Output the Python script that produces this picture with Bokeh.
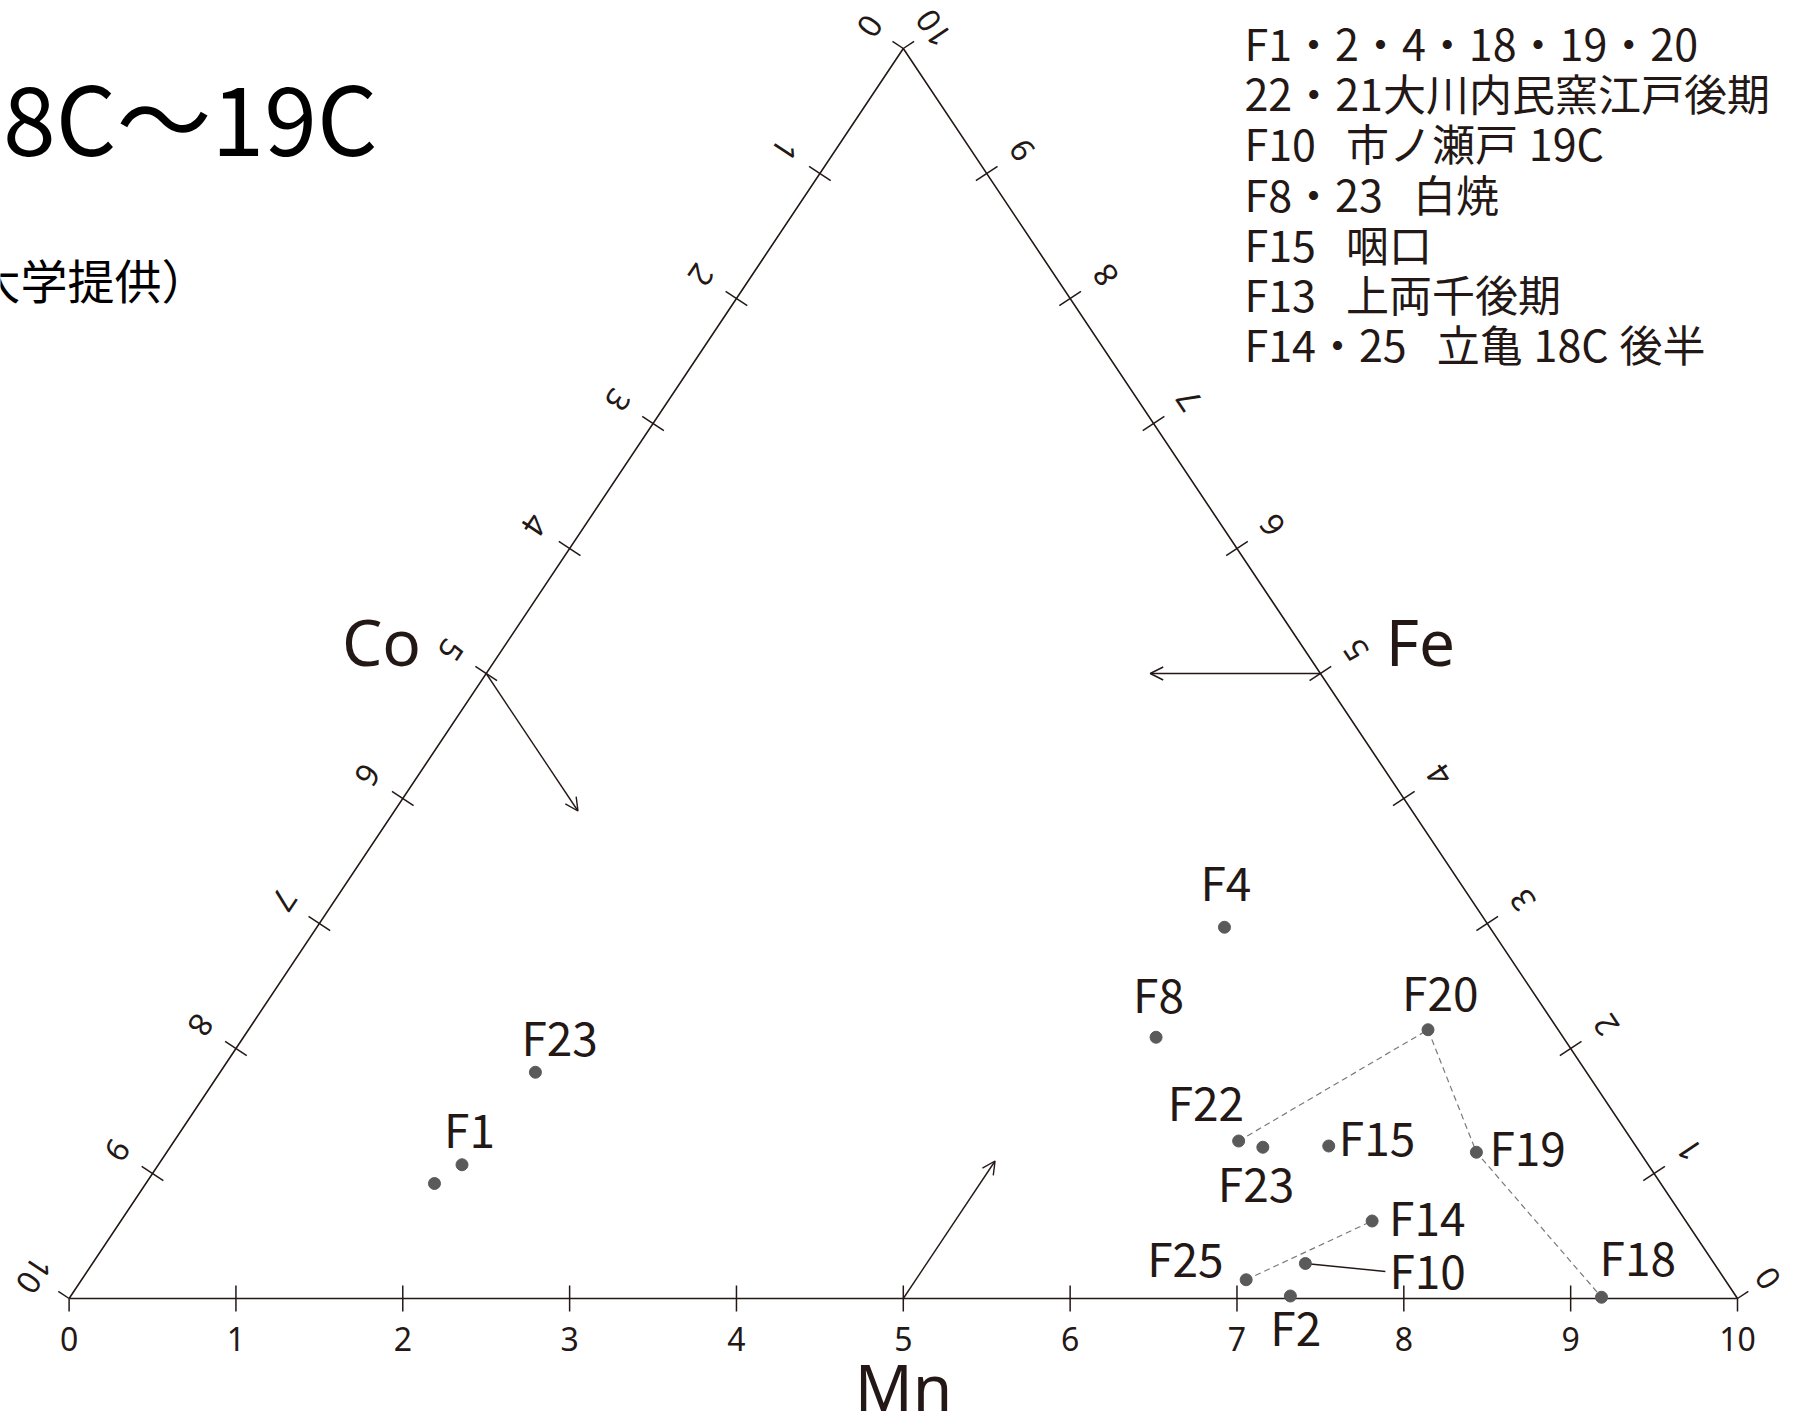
import math
from bokeh.plotting import figure
from bokeh.models import Arrow, OpenHead, Range1d
from bokeh.core.properties import value
from bokeh.embed import file_html
from bokeh.resources import INLINE

# ---------------- data (ternary compositions, scale 0-10) ----------------
names = ["F1", "", "F23", "F4", "F8", "F20", "F22", "F23", "F15", "F19",
         "F14", "F10", "F25", "F2", "F18"]
mn = [1.82, 1.73, 1.89, 5.44, 5.47, 7.07, 6.38, 6.55, 6.94, 7.85,
      7.50, 7.27, 6.98, 7.31, 9.18]
fe = [1.07, 0.92, 1.81, 2.97, 2.09, 2.15, 1.26, 1.21, 1.22, 1.17,
      0.62, 0.28, 0.15, 0.02, 0.01]
co = [7.11, 7.35, 6.30, 1.59, 2.44, 0.78, 2.36, 2.24, 1.84, 0.98,
      1.88, 2.45, 2.87, 2.67, 0.81]

dashed_group_a = [6, 5, 9, 14]   # F22 - F20 - F19 - F18
dashed_group_b = [12, 10]        # F25 - F14

tick_values = list(range(0, 11))

# arrows: (mn, fe, co) start -> end
arrow_start = [(0.0, 5.0, 5.0), (5.0, 5.0, 0.0), (5.0, 0.0, 5.0)]
arrow_end = [(1.1, 3.9, 5.0), (3.98, 5.0, 1.02), (5.0, 1.1, 3.9)]

axis_names = ["Co", "Fe", "Mn"]
title_text = "18C～19C"
subtitle_text = "大学提供）"
legend_lines = [
    "F1・2・4・18・19・20",
    "22・21大川内民窯江戸後期",
    "F10\u2002\u2009市ノ瀬戸\u200519C",
    "F8・23\u2002\u2009白焼",
    "F15\u2002\u2009咽口",
    "F13\u2002\u2009上両千後期",
    "F14・25\u2002\u2009立亀\u200518C\u2005後半",
]

# ---------------- layout (pixels) ----------------
W, H = 1793, 1422
PXX = 166.84   # px per unit along x
PXY = 125.0    # px per unit along y (Fe)
X0_REF, Y0_REF = 68.6, 1298.0   # pixel position of the origin
x_start = (0 - X0_REF) / PXX
x_end = x_start + W / PXX
y_end = (Y0_REF - 0) / PXY
y_start = y_end - H / PXY

INK = "#231815"
DOT = "#5a5a5a"
DASH = "#7a7a7a"

# label offsets (px, right / down) of the text's left-middle relative to point
label_off = [(-18, -37), (0, 0), (-14, -36), (-24, -46), (-23, -44), (-26, -39),
             (-71, -40), (-45, 35), (10, -10), (13, -6), (17, -5), (84, 5),
             (-99, -23), (-20, 30), (-2, -41)]


def tern(m, f, c):
    t = m + f + c
    return 10.0 * (m + f / 2.0) / t, 10.0 * f / t


def off(x, y, sx, sy):
    """shift a data point by screen pixels (sx right, sy down)"""
    return x + sx / PXX, y - sy / PXY


def ref(rx, ry):
    return (rx - X0_REF) / PXX, (Y0_REF - ry) / PXY


p = figure(width=W, height=H, x_range=Range1d(x_start, x_end),
           y_range=Range1d(y_start, y_end), output_backend="svg",
           toolbar_location=None, x_axis_type=None, y_axis_type=None,
           min_border=0, outline_line_color=None)
p.grid.visible = False
p.background_fill_color = "white"
p.border_fill_color = "white"

# ---------------- triangle ----------------
corners = [tern(0, 0, 10), tern(10, 0, 0), tern(0, 10, 0), tern(0, 0, 10)]
p.line([c[0] for c in corners], [c[1] for c in corners], line_color=INK,
       line_width=1.6)

# normals (screen, y down)
eL = (5 * PXX, -10 * PXY)
lL = math.hypot(*eL)
nL = (eL[1] / lL, -eL[0] / lL)          # outward left
eR = (-5 * PXX, -10 * PXY)
lR = math.hypot(*eR)
nR = (-eR[1] / lR, eR[0] / lR)          # outward right
nB = (0.0, 1.0)
angL = 180 + math.degrees(math.atan2(10 * PXY, 5 * PXX))
angR = 180 - math.degrees(math.atan2(10 * PXY, 5 * PXX))

TK = 13
LBL = 42
txs, tys, ttxt, tang = [], [], [], []
tick_xs, tick_ys = [], []
for v in tick_values:
    for side in ("B", "L", "R"):
        if side == "B":
            x, y = tern(v, 0, 10 - v)
            n, ang, dist = nB, 0, 40
        elif side == "L":
            x, y = tern(0, 10 - v, v)
            n, ang, dist = nL, angL, (LBL - 2 if v == 0 else LBL)
        else:
            x, y = tern(10 - v, v, 0)
            n, ang, dist = nR, angR, (LBL - 6 if v in (0, 10) else LBL)
        xo, yo = off(x, y, n[0] * TK, n[1] * TK)
        if 0 < v < 10:
            xi, yi = off(x, y, -n[0] * TK, -n[1] * TK)
        else:
            xi, yi = x, y
        tick_xs.append([xi, xo])
        tick_ys.append([yi, yo])
        lx, ly = off(x, y, n[0] * dist, n[1] * dist)
        txs.append(lx)
        tys.append(ly)
        ttxt.append(str(v))
        tang.append(ang)

p.multi_line(tick_xs, tick_ys, line_color=INK, line_width=1.5)
p.text(x=txs, y=tys, text=ttxt, angle=tang, angle_units="deg",
       text_font=value("Noto Sans"), text_font_size="32px",
       text_align="center", text_baseline="middle", text_color=INK)

# ---------------- arrows ----------------
for s, e in zip(arrow_start, arrow_end):
    x0, y0 = tern(*s)
    x1, y1 = tern(*e)
    p.add_layout(Arrow(x_start=x0, y_start=y0, x_end=x1, y_end=y1,
                       line_color=INK, line_width=1.4,
                       end=OpenHead(size=13, line_color=INK, line_width=1.4)))

# ---------------- points ----------------
pts = [tern(m, f, c) for m, f, c in zip(mn, fe, co)]
px = [q[0] for q in pts]
py = [q[1] for q in pts]

for grp in (dashed_group_a, dashed_group_b):
    p.line([px[i] for i in grp], [py[i] for i in grp], line_color=DASH,
           line_width=1.2, line_dash="6 4")

# leader line for F10
i10 = names.index("F10")
lx, ly = off(px[i10], py[i10], 80, 8)
p.line([px[i10], lx], [py[i10], ly], line_color=INK, line_width=1.4)

p.scatter(px, py, size=12, fill_color=DOT, line_color=DOT)

lab_x, lab_y, lab_t = [], [], []
for i, nm in enumerate(names):
    if not nm:
        continue
    x, y = off(px[i], py[i], *label_off[i])
    lab_x.append(x)
    lab_y.append(y)
    lab_t.append(nm)
p.text(x=lab_x, y=lab_y, text=lab_t, text_font=value("Noto Sans CJK JP"),
       text_font_size="46px", text_align="left", text_baseline="middle",
       text_color=INK)

# ---------------- axis names ----------------
an_pos = [ref(381, 641), ref(1420, 641), ref(903, 1386)]
p.text(x=[q[0] for q in an_pos], y=[q[1] for q in an_pos], text=axis_names,
       text_font=value("Noto Sans"), text_font_size="64px", text_align="center",
       text_baseline="middle", text_color=INK)

# ---------------- title ----------------
tx, ty = ref(377, 114)
p.text(x=[tx], y=[ty], text=[title_text], text_font=value("Noto Sans CJK JP"),
       text_font_size="95px", text_align="right", text_baseline="middle",
       text_color="black")
sx_, sy_ = ref(-27, 278)
p.text(x=[sx_], y=[sy_], text=[subtitle_text], text_font=value("Noto Sans CJK JP"),
       text_font_size="47px", text_align="left", text_baseline="middle",
       text_color="black")

# ---------------- legend text ----------------
lgx, lgy = [], []
for k in range(len(legend_lines)):
    x, y = ref(1244, 41.5 + 50.2 * k)
    lgx.append(x)
    lgy.append(y)
p.text(x=lgx, y=lgy, text=legend_lines, text_font=value("Noto Sans CJK JP"),
       text_font_size="43px", text_align="left", text_baseline="middle",
       text_color=INK)

open("out.html", "w").write(file_html(p, INLINE))
